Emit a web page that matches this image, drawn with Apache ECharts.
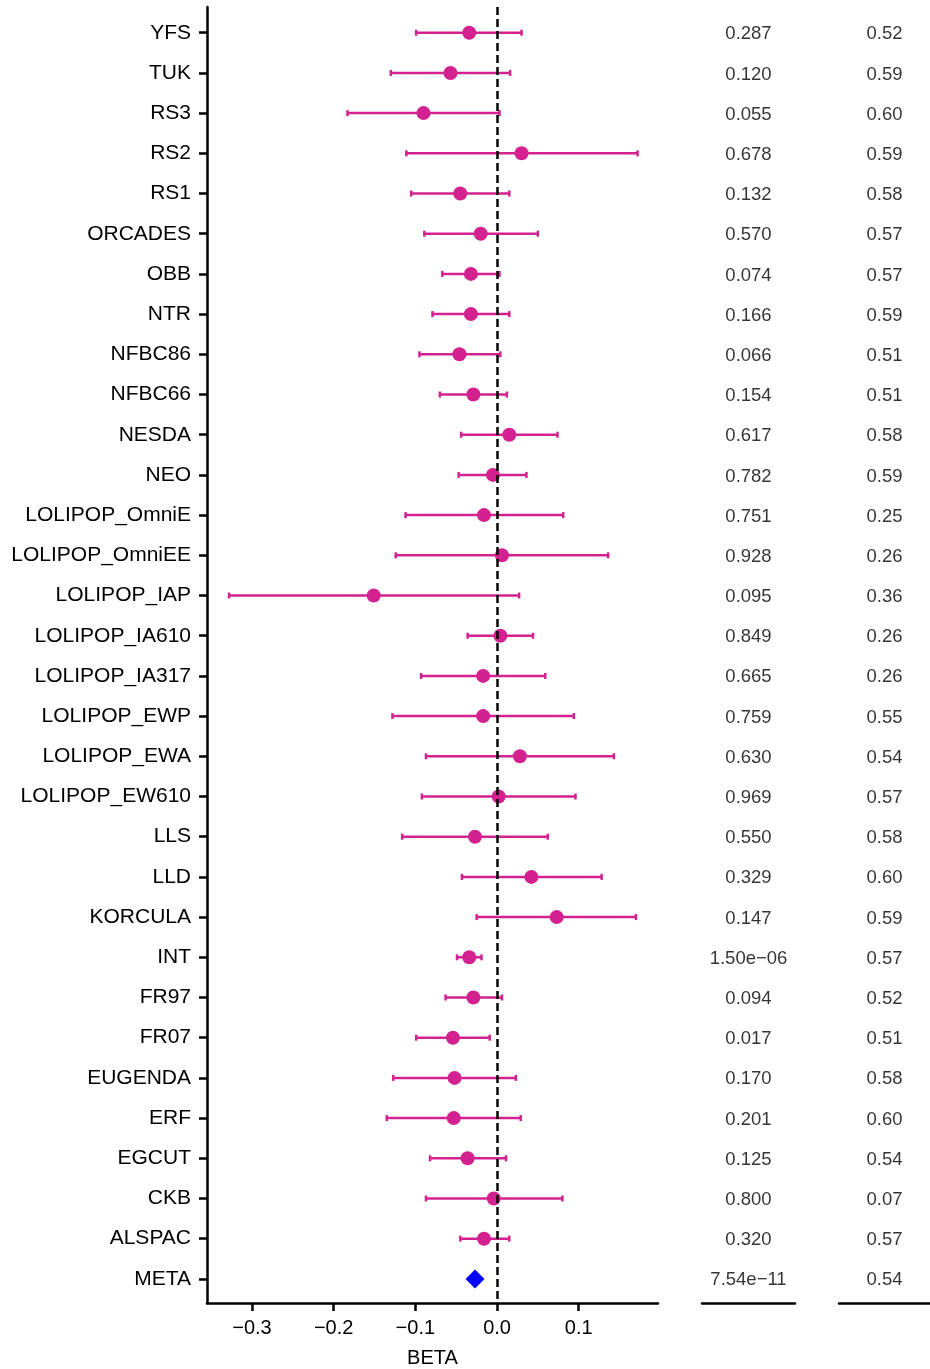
<!DOCTYPE html>
<html>
<head>
<meta charset="utf-8">
<script src="https://cdn.jsdelivr.net/npm/echarts@6/dist/echarts.min.js"></script>
<style>
html,body{margin:0;padding:0;background:#fff;}
#chart{width:930px;height:1369px;}
</style>
</head>
<body>
<div id="chart"></div>
<script>
const categories = ['YFS','TUK','RS3','RS2','RS1','ORCADES','OBB','NTR','NFBC86','NFBC66','NESDA','NEO','LOLIPOP_OmniE','LOLIPOP_OmniEE','LOLIPOP_IAP','LOLIPOP_IA610','LOLIPOP_IA317','LOLIPOP_EWP','LOLIPOP_EWA','LOLIPOP_EW610','LLS','LLD','KORCULA','INT','FR97','FR07','EUGENDA','ERF','EGCUT','CKB','ALSPAC','META'];
const studyBeta = [-0.034,-0.057,-0.090,0.030,-0.045,-0.020,-0.032,-0.032,-0.046,-0.029,0.015,-0.005,-0.016,0.006,-0.151,0.004,-0.017,-0.017,0.028,0.002,-0.027,0.042,0.073,-0.034,-0.029,-0.054,-0.052,-0.053,-0.036,-0.004,-0.016];
const studyLower = [-0.099,-0.130,-0.183,-0.111,-0.105,-0.089,-0.067,-0.079,-0.095,-0.070,-0.044,-0.047,-0.112,-0.124,-0.328,-0.036,-0.093,-0.128,-0.087,-0.092,-0.116,-0.043,-0.025,-0.049,-0.063,-0.099,-0.127,-0.135,-0.082,-0.087,-0.045];
const studyUpper = [0.030,0.016,0.003,0.172,0.015,0.050,0.003,0.015,0.004,0.012,0.074,0.036,0.081,0.136,0.027,0.044,0.059,0.094,0.143,0.096,0.062,0.128,0.170,-0.019,0.006,-0.009,0.023,0.029,0.011,0.080,0.015];
const metaBeta = -0.027;
const pvalLabels = ['0.287','0.120','0.055','0.678','0.132','0.570','0.074','0.166','0.066','0.154','0.617','0.782','0.751','0.928','0.095','0.849','0.665','0.759','0.630','0.969','0.550','0.329','0.147','1.50e\u221206','0.094','0.017','0.170','0.201','0.125','0.800','0.320','7.54e\u221211'];
const col2Labels = ['0.52','0.59','0.60','0.59','0.58','0.57','0.57','0.59','0.51','0.51','0.58','0.59','0.25','0.26','0.36','0.26','0.26','0.55','0.54','0.57','0.58','0.60','0.59','0.57','0.52','0.51','0.58','0.60','0.54','0.07','0.57','0.54'];
const xTicks = [-0.3,-0.2,-0.1,0.0,0.1];

const FONT = 'Liberation Sans, Arial, sans-serif';
const PINK = '#d3228f';
const idx = categories.map((_, i) => i);
const Y_MIN = -0.64, Y_MAX = 31.6;
const GT = 7, GB = 66;

const pointData = studyBeta.map((b, i) => [b, i]);
const barData = studyLower.map((lo, i) => [lo, studyUpper[i], i]);
const metaIdx = categories.indexOf('META');

function yAxisHidden(gi) {
  return {type:'value', gridIndex:gi, min:Y_MIN, max:Y_MAX, inverse:true, show:false};
}
function fmtTick(v) {
  const s = Math.abs(v).toFixed(1);
  return v < -1e-9 ? '\u2212' + s : s;
}

const chart = echarts.init(document.getElementById('chart'), null, {renderer:'canvas'});
chart.setOption({
  animation:false,
  backgroundColor:'#fff',
  grid:[
    {left:207, right:272, top:GT, bottom:GB, containLabel:false, outerBoundsMode:'none'},
    {left:702, right:135, top:GT, bottom:GB, containLabel:false, outerBoundsMode:'none'},
    {left:839, right:0, top:GT, bottom:GB, containLabel:false, outerBoundsMode:'none'}
  ],
  xAxis:[
    {type:'value', gridIndex:0, min:-0.355, max:0.197,
     axisLine:{show:true, onZero:false, lineStyle:{color:'#000', width:2.5}},
     axisTick:{show:true, customValues:xTicks, length:8, lineStyle:{color:'#000', width:2.5}},
     axisLabel:{customValues:xTicks, formatter:fmtTick, color:'#000', fontFamily:FONT, fontSize:20, margin:15},
     splitLine:{show:false},
     name:'BETA', nameLocation:'middle', nameGap:45,
     nameTextStyle:{color:'#000', fontFamily:FONT, fontSize:20}},
    {type:'value', gridIndex:1, min:0, max:1,
     axisLine:{show:true, onZero:false, lineStyle:{color:'#000', width:2.5}},
     axisTick:{show:false}, axisLabel:{show:false}, splitLine:{show:false}},
    {type:'value', gridIndex:2, min:0, max:1,
     axisLine:{show:true, onZero:false, lineStyle:{color:'#000', width:2.5}},
     axisTick:{show:false}, axisLabel:{show:false}, splitLine:{show:false}}
  ],
  yAxis:[
    {type:'value', gridIndex:0, min:Y_MIN, max:Y_MAX, inverse:true,
     axisLine:{show:true, onZero:false, lineStyle:{color:'#000', width:2.5}},
     axisTick:{show:true, customValues:idx, length:8, lineStyle:{color:'#000', width:2.5}},
     axisLabel:{customValues:idx, formatter:v => categories[Math.round(v)], color:'#000', fontFamily:FONT, fontSize:21, margin:16, padding:[2,0,0,0]},
     splitLine:{show:false}},
    yAxisHidden(1),
    yAxisHidden(2)
  ],
  series:[
    {
      type:'custom', xAxisIndex:0, yAxisIndex:0, silent:true,
      data:barData,
      encode:{x:[0,1], y:2},
      renderItem:function(params, api){
        const y = api.value(2);
        const p1 = api.coord([api.value(0), y]);
        const p2 = api.coord([api.value(1), y]);
        const c = 3;
        const st = {stroke:PINK, lineWidth:2.5};
        return {type:'group', children:[
          {type:'line', shape:{x1:p1[0], y1:p1[1], x2:p2[0], y2:p2[1]}, style:st},
          {type:'line', shape:{x1:p1[0], y1:p1[1]-c, x2:p1[0], y2:p1[1]+c}, style:st},
          {type:'line', shape:{x1:p2[0], y1:p2[1]-c, x2:p2[0], y2:p2[1]+c}, style:st}
        ]};
      },
      z:2
    },
    {
      type:'scatter', xAxisIndex:0, yAxisIndex:0, silent:true,
      data:pointData, symbol:'circle', symbolSize:14,
      itemStyle:{color:PINK, opacity:1},
      markLine:{
        silent:true, symbol:'none', label:{show:false},
        lineStyle:{color:'#000', width:2.5, type:[8,4]},
        data:[{xAxis:0}]
      },
      z:3
    },
    {
      type:'scatter', xAxisIndex:0, yAxisIndex:0, silent:true,
      data:[[metaBeta, metaIdx]], symbol:'diamond', symbolSize:[19,19],
      itemStyle:{color:'#0000ff', opacity:1}, z:4
    },
    {
      type:'scatter', xAxisIndex:1, yAxisIndex:1, silent:true,
      data:pvalLabels.map((s, i) => [0.5, i]), symbolSize:0,
      label:{show:true, position:'inside', offset:[0,1.5], formatter:p => pvalLabels[p.dataIndex],
             color:'#000', fontFamily:FONT, fontSize:18.5}
    },
    {
      type:'scatter', xAxisIndex:2, yAxisIndex:2, silent:true,
      data:col2Labels.map((s, i) => [0.5, i]), symbolSize:0,
      label:{show:true, position:'inside', offset:[0,1.5], formatter:p => col2Labels[p.dataIndex],
             color:'#000', fontFamily:FONT, fontSize:18.5}
    }
  ]
});
</script>
</body>
</html>
